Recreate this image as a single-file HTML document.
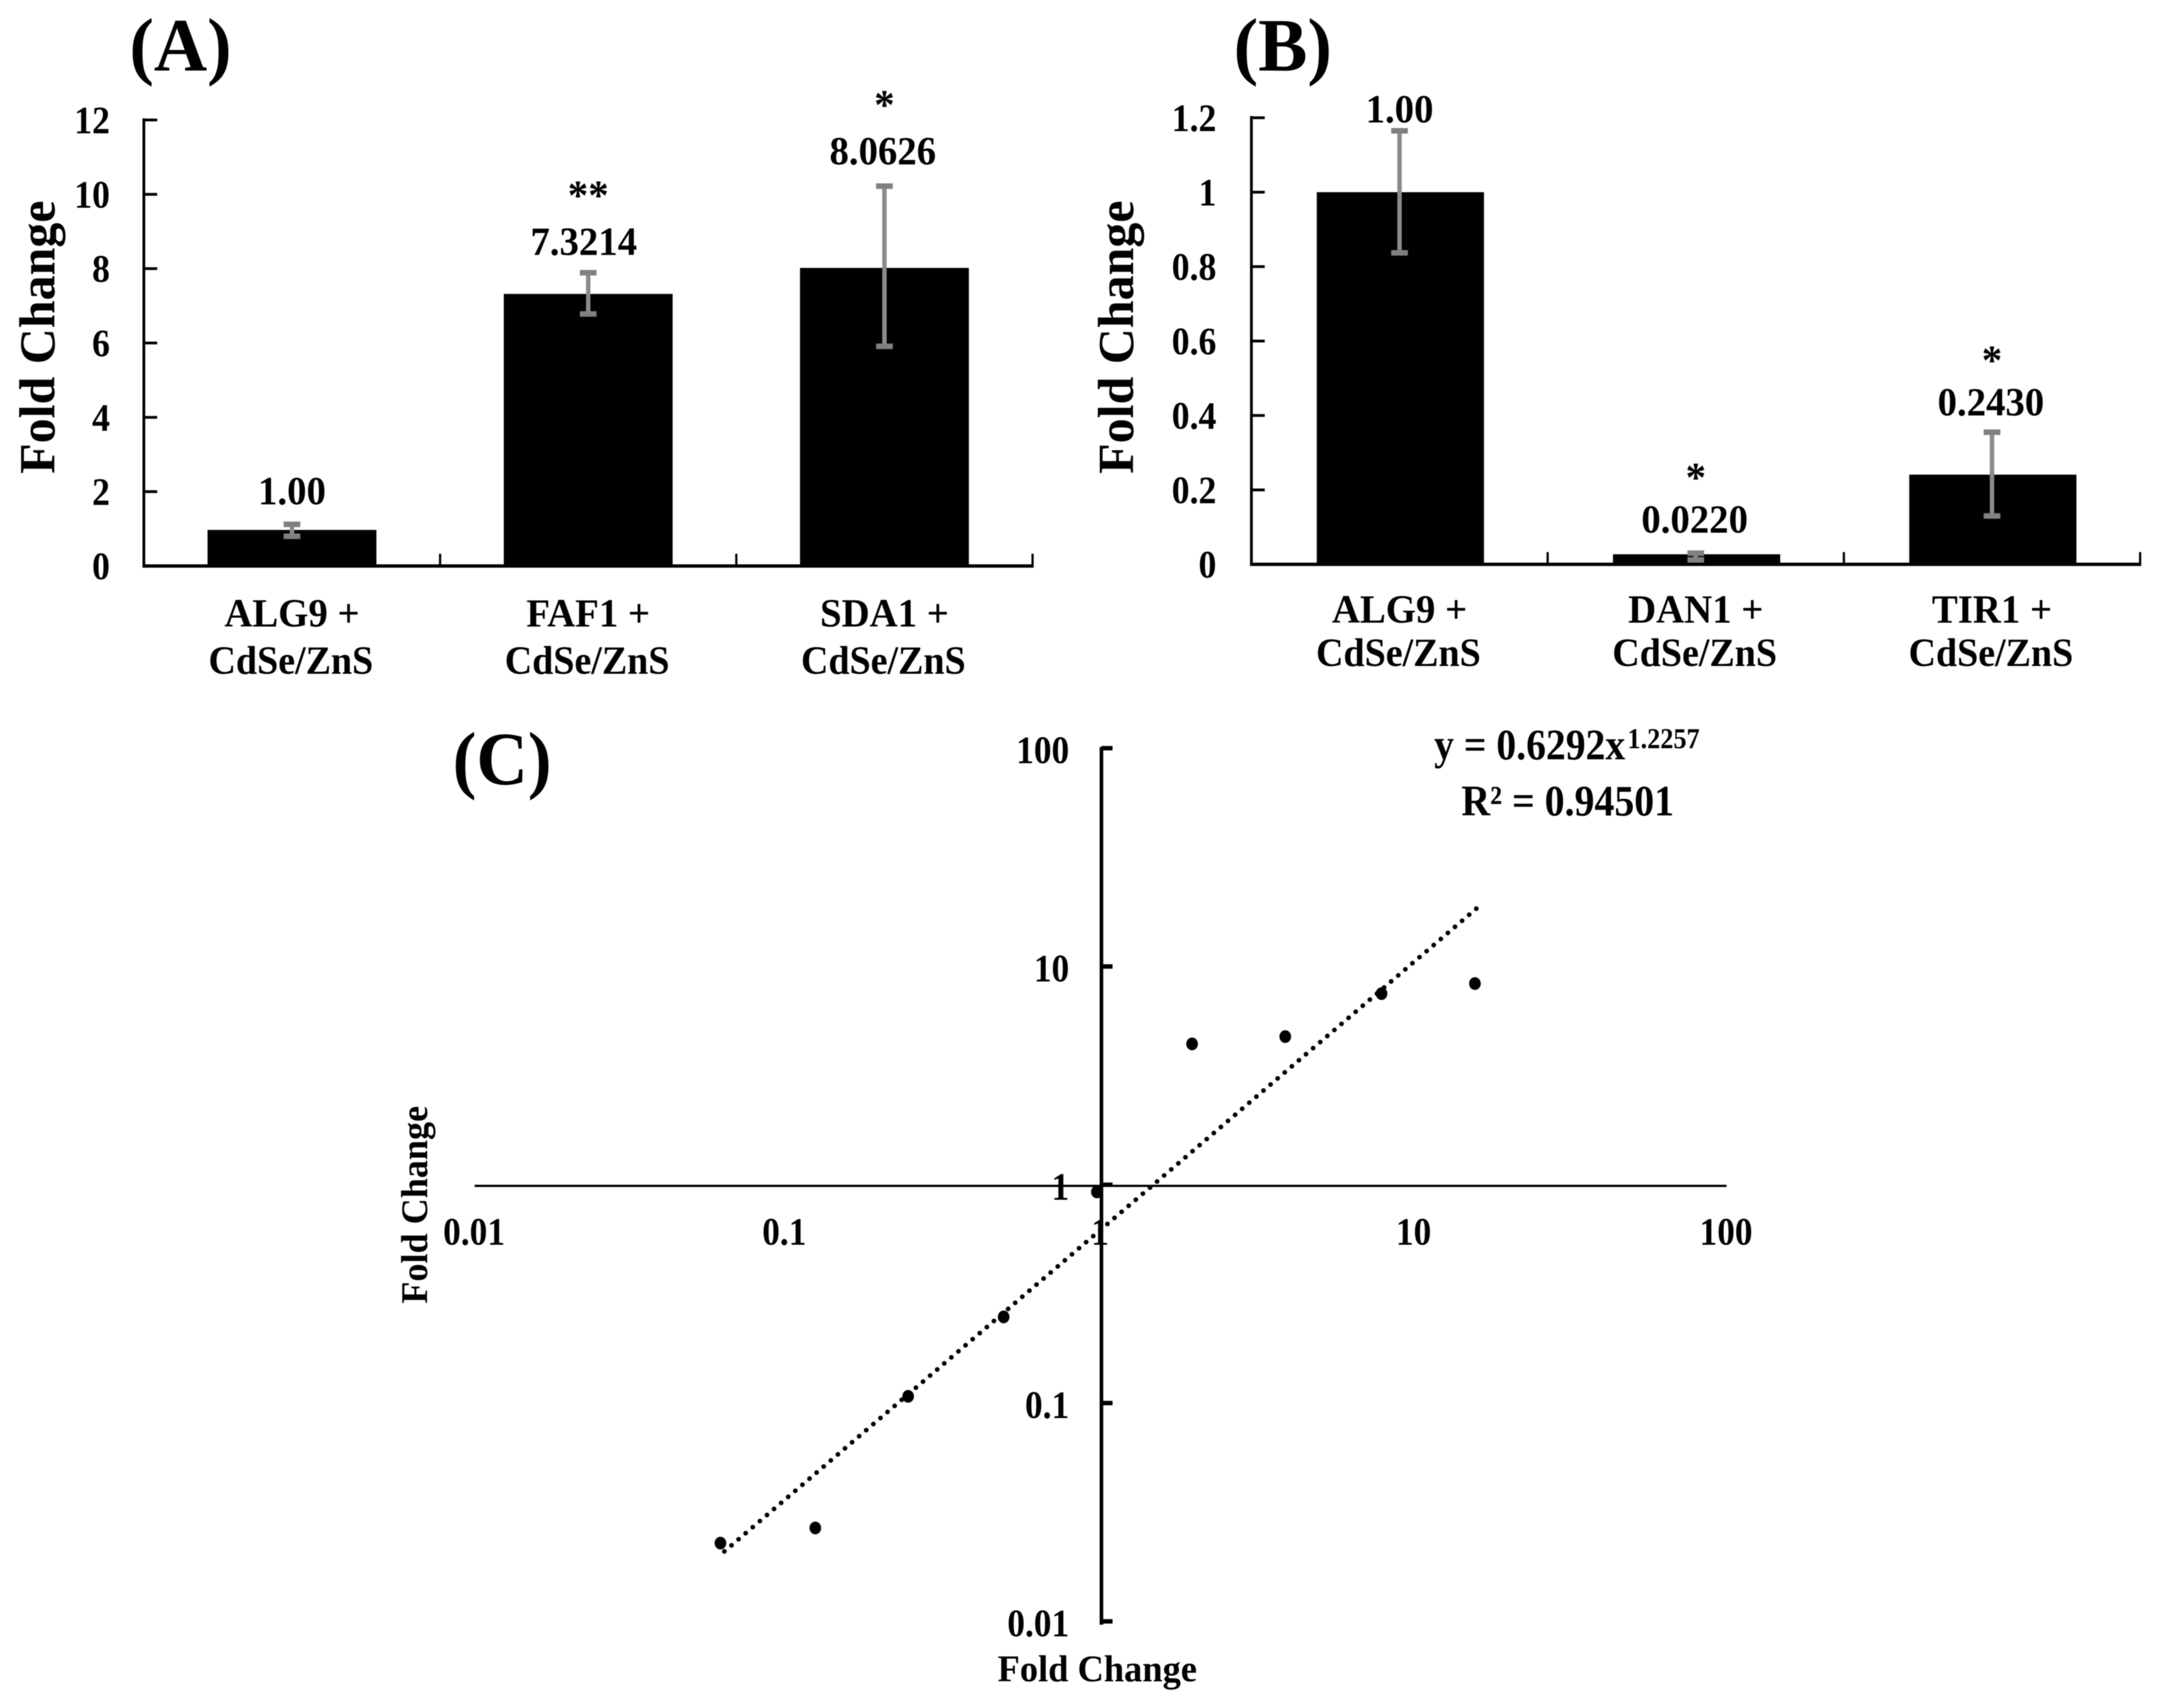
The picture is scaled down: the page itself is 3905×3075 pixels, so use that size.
<!DOCTYPE html>
<html lang="en">
<head>
<meta charset="utf-8">
<title>Fold Change charts</title>
<style>
html,body{margin:0;padding:0;background:#fff;}
svg{display:block;filter:blur(0.8px);}
text{font-family:"Liberation Serif",serif;font-weight:bold;fill:#000;}
</style>
</head>
<body>
<svg id="figure" xmlns="http://www.w3.org/2000/svg" width="3905" height="3075" viewBox="0 0 3905 3075">
  <rect x="0" y="0" width="3905" height="3075" fill="#fff"/>
  <text x="233" y="127" font-size="136" textLength="184" lengthAdjust="spacingAndGlyphs">(A)</text>
  <text x="2221" y="127" font-size="136" textLength="177" lengthAdjust="spacingAndGlyphs">(B)</text>
  <text x="815" y="1412" font-size="136" textLength="178" lengthAdjust="spacingAndGlyphs">(C)</text>
  <text transform="translate(98,853) rotate(-90)" font-size="91" textLength="492" lengthAdjust="spacingAndGlyphs">Fold Change</text>
  <text transform="translate(2040,853) rotate(-90)" font-size="91" textLength="492" lengthAdjust="spacingAndGlyphs">Fold Change</text>
  <text transform="translate(769,2347) rotate(-90)" font-size="68" textLength="356" lengthAdjust="spacingAndGlyphs">Fold Change</text>
  <text x="1796" y="3027" font-size="68" textLength="359" lengthAdjust="spacingAndGlyphs">Fold Change</text>
  <text x="2582" y="1367" font-size="78" textLength="344" lengthAdjust="spacingAndGlyphs">y = 0.6292x</text>
  <text x="2930" y="1347" font-size="52" textLength="130" lengthAdjust="spacingAndGlyphs">1.2257</text>
  <text x="2631" y="1468" font-size="78" textLength="383" lengthAdjust="spacingAndGlyphs">R² = 0.94501</text>
  <g id="panel-a"></g>
  <g id="panel-b"></g>
  <g id="panel-c"></g>
</svg>
<script>
// Panel A data
const catsA = ['ALG9 +', 'FAF1 +', 'SDA1 +'];
const valuesA = [0.97, 7.32, 8.02];
const errHighA = [1.12, 7.89, 10.22];
const errLowA = [0.80, 6.78, 5.91];
const printedA = ['1.00', '7.3214', '8.0626'];
const starsA = ['', '**', '*'];
const ticksA = [0, 2, 4, 6, 8, 10, 12];
const tickLabelsA = ['0', '2', '4', '6', '8', '10', '12'];

// Panel B data
const catsB = ['ALG9 +', 'DAN1 +', 'TIR1 +'];
const valuesB = [1.0, 0.027, 0.241];
const errHighB = [1.165, 0.03, 0.355];
const errLowB = [0.837, 0.012, 0.13];
const printedB = ['1.00', '0.0220', '0.2430'];
const starsB = ['', '*', '*'];
const ticksB = [0, 0.2, 0.4, 0.6, 0.8, 1, 1.2];
const tickLabelsB = ['0', '0.2', '0.4', '0.6', '0.8', '1', '1.2'];

// Panel C data
const scatterX = [0.061, 0.1226, 0.2427, 0.49, 0.973, 1.96, 3.89, 7.9, 15.7];
const scatterY = [0.0231, 0.0271, 0.1086, 0.251, 0.938, 4.47, 4.83, 7.6, 8.45];
const trendCoef = 0.6292;
const trendExp = 1.2257;
const trendRange = [0.0628, 15.9];
const logTicks = [0.01, 0.1, 1, 10, 100];
const logTickLabels = ['0.01', '0.1', '1', '10', '100'];

const SVGNS = 'http://www.w3.org/2000/svg';
function mk(parent, tag, attrs, txt) {
  const el = document.createElementNS(SVGNS, tag);
  for (const k in attrs) el.setAttribute(k, attrs[k]);
  if (txt !== undefined) el.textContent = txt;
  parent.appendChild(el);
  return el;
}
function squeezed(parent, x, y, str, size, sx, anchor) {
  return mk(parent, 'text', {transform: 'translate(' + x + ',' + y + ') scale(' + sx + ',1)', 'font-size': size, 'text-anchor': anchor}, str);
}

function drawBars(opts) {
  const g = document.getElementById(opts.id);
  const yOf = v => opts.y0 - (v / opts.yMax) * (opts.y0 - opts.yTop);
  const band = (opts.xEnd - opts.x0) / opts.cats.length;
  const xOf = i => opts.x0 + band * (i + 0.5);

  opts.cats.forEach((c, i) => {
    const bar = mk(g, 'rect', {x: xOf(i) - 152 + opts.barInset, y: yOf(opts.values[i]), width: 304 - opts.barInset, height: opts.y0 - yOf(opts.values[i]) + 3, fill: '#000'});
    
    

    const hi = yOf(opts.errHigh[i]), lo = yOf(opts.errLow[i]);
    const eb = mk(g, 'path', {d: 'M' + xOf(i) + ' ' + hi + 'V' + lo, stroke: '#8a8a8a', 'stroke-width': 8, fill: 'none'});
    
    
    const caps = mk(g, 'path', {d: 'M' + (xOf(i) - 15) + ' ' + hi + 'h30M' + (xOf(i) - 15) + ' ' + lo + 'h30', stroke: '#808080', 'stroke-width': 10, fill: 'none'});
    
    

    const labelY = hi - 5 + opts.labelNudge[i];
    const val = squeezed(g, xOf(i) + opts.labelShift[i], labelY, opts.printed[i], 72, 0.97, 'middle');
    
    
    if (opts.stars[i]) {
      const st = squeezed(g, xOf(i), labelY - opts.starGap, opts.stars[i], 76, 0.97, 'middle');
      
      
    }

    const cl = squeezed(g, xOf(i), opts.catY, c, 72, 0.97, 'middle');
    
    
    const cl2 = squeezed(g, xOf(i) - 2, opts.catY + opts.catGap, 'CdSe/ZnS', 72, 0.95, 'middle');
    
    
  });

  const yAxis = mk(g, 'line', {x1: opts.x0, x2: opts.x0, y1: yOf(opts.yMax) - 3, y2: opts.y0 + 3, stroke: '#000', 'stroke-width': 5});
  
  
  const xAxis = mk(g, 'line', {x1: opts.x0 - 2, x2: opts.xEnd + 2, y1: opts.y0, y2: opts.y0, stroke: '#000', 'stroke-width': 6});
  
  

  opts.ticks.forEach((t, i) => {
    const tk = mk(g, 'line', {x1: opts.x0, x2: opts.x0 + 24, y1: yOf(t), y2: yOf(t), stroke: '#000', 'stroke-width': 5});
    
    
    const tl = squeezed(g, opts.labelEnd, yOf(t) + 24, opts.tickLabels[i], 70, 0.92, 'end');
    
    
  });
  for (let i = 1; i <= opts.cats.length; i++) {
    const xt = mk(g, 'line', {x1: opts.x0 + band * i, x2: opts.x0 + band * i, y1: opts.y0, y2: opts.y0 - 22, stroke: '#000', 'stroke-width': 4});
    
    
  }
}

drawBars({id: 'panel-a', cats: catsA, values: valuesA, errHigh: errHighA, errLow: errLowA, printed: printedA, stars: starsA,
  ticks: ticksA, tickLabels: tickLabelsA, yMax: 12, x0: 259, xEnd: 1859, y0: 1019, yTop: 216, labelEnd: 198,
  labelNudge: [-31, -27, -34], labelShift: [0, -8, -3], starGap: 82, barInset: 0, catY: 1128, catGap: 85});
drawBars({id: 'panel-b', cats: catsB, values: valuesB, errHigh: errHighB, errLow: errLowB, printed: printedB, stars: starsB,
  ticks: ticksB, tickLabels: tickLabelsB, yMax: 1.2, x0: 2253, xEnd: 3853, y0: 1016, yTop: 212, labelEnd: 2190,
  labelNudge: [-10, -32, -25], labelShift: [0, -2, -2], starGap: 74, barInset: 3, catY: 1121, catGap: 78});

(function drawScatter() {
  const g = document.getElementById('panel-c');
  const xOf = v => 1981.5 + 563.5 * Math.log10(v);
  const yOf = v => 2135 - 393 * Math.log10(v);
  const xLabelNudge = [-1, -6, -1, 0, -1];

  const hAxis = mk(g, 'line', {x1: xOf(0.01), x2: xOf(100), y1: yOf(1), y2: yOf(1), stroke: '#000', 'stroke-width': 4});
  
  
  const vAxis = mk(g, 'line', {x1: 1983, x2: 1983, y1: yOf(100) - 4, y2: yOf(0.01) + 4, stroke: '#000', 'stroke-width': 6.5});
  
  

  logTicks.forEach((t, i) => {
    const tk = mk(g, 'line', {x1: 1983, x2: 2003, y1: yOf(t) - 2, y2: yOf(t) - 2, stroke: '#000', 'stroke-width': 8});
    
    
    const yl = squeezed(g, 1925, yOf(t) + 25, logTickLabels[i], 70, 0.91, 'end');
    
    
    const xl = squeezed(g, xOf(t) + xLabelNudge[i], 2241, logTickLabels[i], 70, 0.91, 'middle');
    
    
  });

  const tx0 = trendRange[0], tx1 = trendRange[1];
  const tf = v => trendCoef * Math.pow(v, trendExp);
  const trend = mk(g, 'line', {x1: xOf(tx0), y1: yOf(tf(tx0)), x2: xOf(tx1), y2: yOf(tf(tx1)), stroke: '#000', 'stroke-width': 8.5, 'stroke-linecap': 'round', 'stroke-dasharray': '0.1 16.7'});
  
  

  scatterX.forEach((v, i) => {
    const pt = mk(g, 'ellipse', {cx: xOf(v), cy: yOf(scatterY[i]), rx: 10.5, ry: 11.5, fill: '#000'});
    
    
  });
})();
</script>
</body>
</html>
